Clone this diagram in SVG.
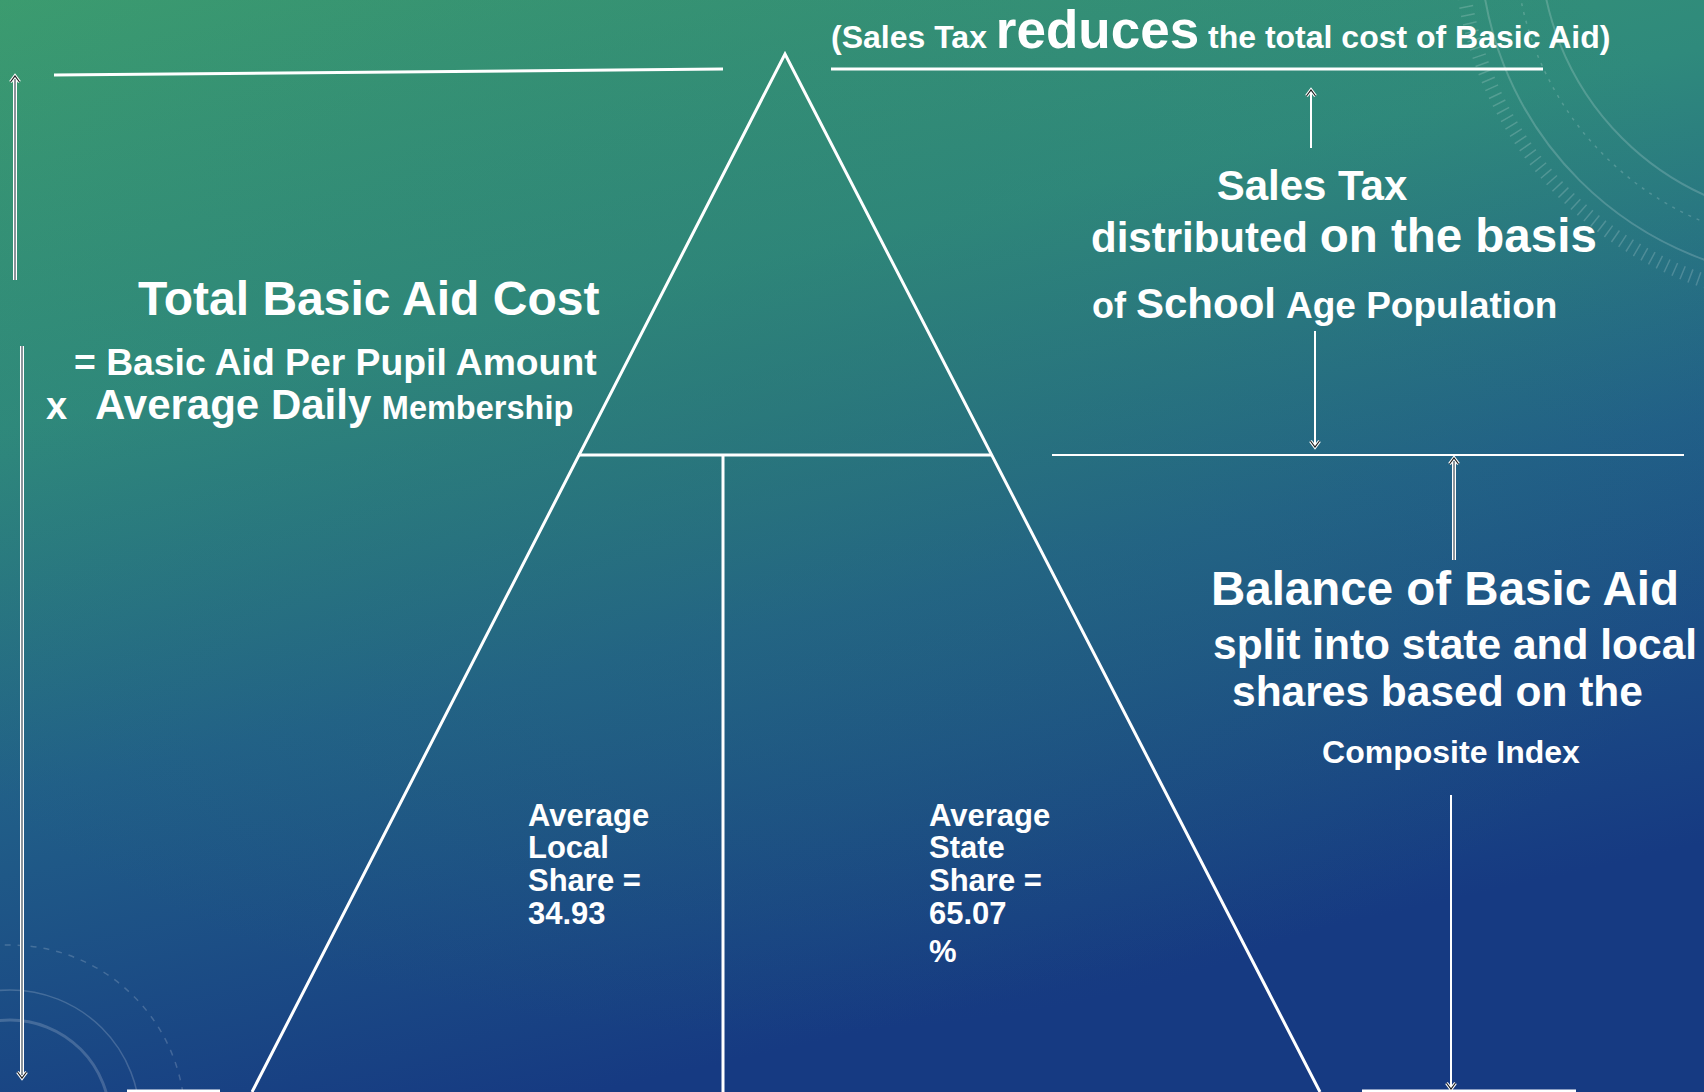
<svg xmlns="http://www.w3.org/2000/svg" width="1704" height="1092" viewBox="0 0 1704 1092">
  <defs>
    <linearGradient id="bg" x1="0" y1="0" x2="0.35" y2="1">
      <stop offset="0" stop-color="#3c9c6f"/>
      <stop offset="0.35" stop-color="#2f8a7c"/>
      <stop offset="0.65" stop-color="#215f88"/>
      <stop offset="1" stop-color="#163a82"/>
    </linearGradient>
    <radialGradient id="glow" cx="0.45" cy="0.35" r="0.6">
      <stop offset="0" stop-color="#2c7a70" stop-opacity="0.35"/>
      <stop offset="1" stop-color="#2c7a70" stop-opacity="0"/>
    </radialGradient>
    <!-- open chevron head, pointing along the line direction -->
    <marker id="head" viewBox="0 0 12 12" refX="9" refY="6" markerWidth="12" markerHeight="12" markerUnits="userSpaceOnUse" orient="auto">
      <path d="M3,1.5 L9,6 L3,10.5" fill="none" stroke="#ffffff" stroke-width="3.2"/>
      <path d="M3,1.5 L9,6 L3,10.5" fill="none" stroke="#1b1b1b" stroke-width="1.2"/>
    </marker>
    <style>
      .t { font-family: "Liberation Sans", Arial, sans-serif; font-weight: bold; fill: #ffffff; }
      .ln { stroke: #ffffff; stroke-width: 3; fill: none; }
      .thin { stroke: #ffffff; stroke-width: 2; fill: none; }
      .shaft { stroke: #ffffff; stroke-width: 4; fill: none; }
      .core { stroke: #2b3b48; stroke-width: 1.1; fill: none; }
      .deco { stroke: #ffffff; fill: none; opacity: 0.18; }
    </style>
  </defs>

  <!-- background -->
  <rect x="0" y="0" width="1704" height="1092" fill="url(#bg)"/>
  <rect x="0" y="0" width="1704" height="1092" fill="url(#glow)"/>

  <!-- decorative dial arcs -->
  <g id="decoration">
    <circle class="deco" cx="1820" cy="-60" r="340" stroke-width="2"/>
    <circle class="deco" cx="1820" cy="-60" r="280" stroke-width="2"/>
    <circle class="deco" cx="1820" cy="-60" r="305" stroke-width="1.5" stroke-dasharray="3 6"/>
    <circle class="deco" cx="1820" cy="-60" r="360" stroke-width="14" stroke-dasharray="1.5 7" opacity="0.12"/>
    <circle class="deco" cx="10" cy="1120" r="100" stroke-width="3"/>
    <circle class="deco" cx="10" cy="1120" r="130" stroke-width="1.5"/>
    <circle class="deco" cx="10" cy="1120" r="175" stroke-width="1.5" stroke-dasharray="6 7"/>
  </g>

  <!-- connectors and outline lines -->
  <g id="connectors">
    <!-- pyramid -->
    <path class="ln" d="M252,1092 L785,54 L1320,1092"/>
    <line class="ln" x1="578" y1="455" x2="992" y2="455"/>
    <line class="ln" x1="723" y1="455" x2="723" y2="1092"/>
    <!-- level lines -->
    <line class="ln" x1="54" y1="75" x2="723" y2="69"/>
    <line class="ln" x1="831" y1="69" x2="1543" y2="69"/>
    <line class="thin" x1="1052" y1="455" x2="1684" y2="455"/>
    <line class="ln" x1="127" y1="1091" x2="220" y2="1091"/>
    <line class="ln" x1="1362" y1="1091" x2="1576" y2="1091"/>
    <!-- left span arrows -->
    <line class="shaft" x1="15" y1="280" x2="15" y2="80"/>
    <line class="core" x1="15" y1="280" x2="15" y2="76" marker-end="url(#head)"/>
    <line class="shaft" x1="22" y1="346" x2="22" y2="1074"/>
    <line class="core" x1="22" y1="346" x2="22" y2="1078" marker-end="url(#head)"/>
    <!-- right side arrows -->
    <line class="thin" x1="1311" y1="148" x2="1311" y2="90" marker-end="url(#head)"/>
    <line class="thin" x1="1315" y1="331" x2="1315" y2="447" marker-end="url(#head)"/>
    <line class="shaft" x1="1454" y1="560" x2="1454" y2="462"/>
    <line class="core" x1="1454" y1="560" x2="1454" y2="458" marker-end="url(#head)"/>
    <line class="thin" x1="1451" y1="795" x2="1451" y2="1089" marker-end="url(#head)"/>
  </g>

  <!-- top statement -->
  <g id="sales-tax-reduces">
    <text class="t" x="831" y="48" font-size="32">(Sales Tax <tspan font-size="53">reduces</tspan> the total cost of Basic Aid)</text>
  </g>

  <!-- sales tax distribution -->
  <g id="sales-tax-distribution">
    <text class="t" x="1312" y="200" font-size="42" text-anchor="middle">Sales Tax</text>
    <text class="t" x="1091" y="252" font-size="42">distributed <tspan font-size="47.5">on the basis</tspan></text>
    <text class="t" x="1092" y="318" font-size="36">of <tspan font-size="42">School</tspan> <tspan font-size="37">Age Population</tspan></text>
  </g>

  <!-- total cost -->
  <g id="total-basic-aid-cost">
    <text class="t" x="138" y="315" font-size="48">Total Basic Aid Cost</text>
    <text class="t" x="74" y="375" font-size="37.3">= Basic Aid Per Pupil Amount</text>
    <text class="t" x="46" y="419" font-size="38">x  <tspan x="95" font-size="42">Average Daily</tspan> <tspan font-size="32.5">Membership</tspan></text>
  </g>

  <!-- balance split -->
  <g id="balance-of-basic-aid">
    <text class="t" x="1445" y="605" font-size="47.5" text-anchor="middle">Balance of Basic Aid</text>
    <text class="t" x="1213" y="659" font-size="42.5">split into state and local</text>
    <text class="t" x="1232" y="706" font-size="42.5">shares based on the</text>
    <text class="t" x="1451" y="763" font-size="32" text-anchor="middle">Composite Index</text>
  </g>

  <!-- local share -->
  <g id="local-share">
    <text class="t" font-size="31">
      <tspan x="528" y="826">Average</tspan>
      <tspan x="528" y="858">Local</tspan>
      <tspan x="528" y="891">Share =</tspan>
      <tspan x="528" y="924">34.93</tspan>
    </text>
  </g>

  <!-- state share -->
  <g id="state-share">
    <text class="t" font-size="31">
      <tspan x="929" y="826">Average</tspan>
      <tspan x="929" y="858">State</tspan>
      <tspan x="929" y="891">Share =</tspan>
      <tspan x="929" y="924">65.07</tspan>
      <tspan x="929" y="962">%</tspan>
    </text>
  </g>
</svg>
